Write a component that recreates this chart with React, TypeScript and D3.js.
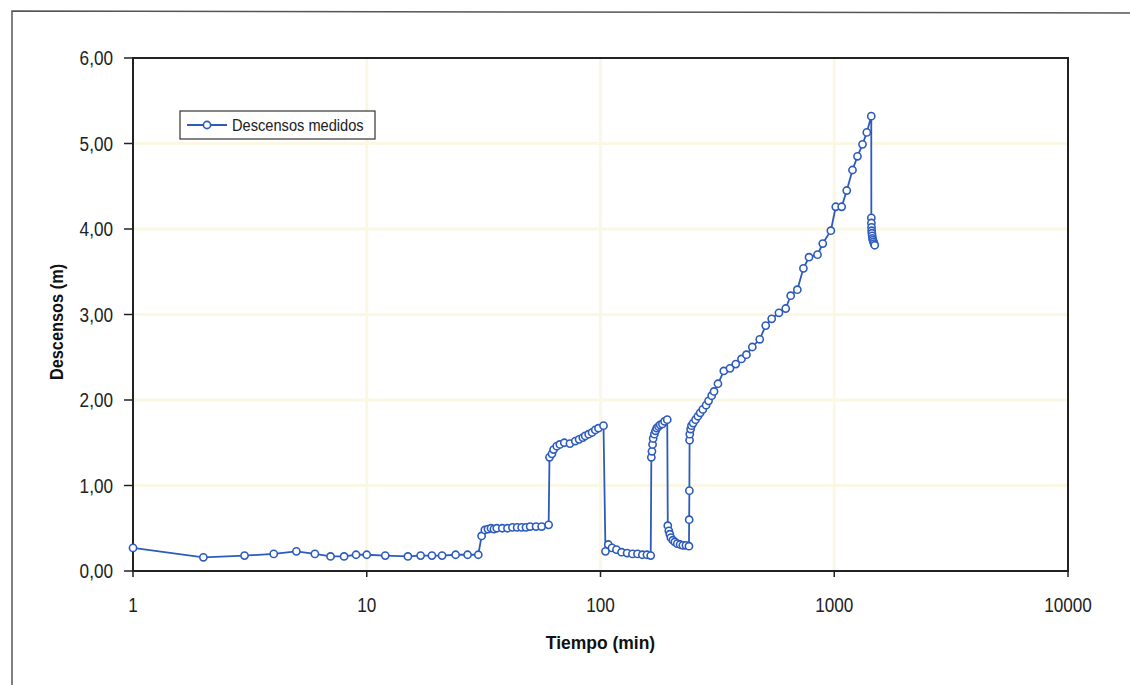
import React, { useEffect, useRef } from 'react';
import * as d3 from 'd3';

// Tiempo (min) y descensos medidos (m)
const tiempo = [
  1, 2, 3, 4, 5, 6, 7, 8, 9, 10, 12, 15, 17, 19, 21, 24, 27, 30,
  31, 32, 33, 34, 35, 36, 38, 40, 42, 44, 46, 48, 50, 53, 56, 60,
  60.5, 62, 63, 65, 67, 70, 74, 78, 81, 84, 86, 89, 92, 95, 98, 103,
  105, 108, 112, 117, 123, 130, 137, 144, 151, 158, 164,
  165, 166, 167, 168, 170, 172, 174, 177, 180, 184, 188, 193,
  194, 196, 198, 200, 204, 208, 213, 219, 225, 232, 239,
  239.5, 240, 240.5, 241, 243, 245, 249, 255, 261, 267, 274, 283, 290, 299, 306, 318,
  337, 358, 379, 401, 421, 446, 480, 509, 540, 580, 620, 651, 695, 738, 780, 848, 893,
  967, 1015, 1076, 1131, 1197, 1257, 1321, 1378, 1440,
  1441, 1442, 1444, 1446, 1449, 1453, 1458, 1464, 1472, 1481, 1490,
];

const descensos = [
  0.27, 0.16, 0.18, 0.2, 0.23, 0.2, 0.17, 0.17, 0.19, 0.19, 0.18, 0.17, 0.18, 0.18, 0.18, 0.19, 0.19, 0.19,
  0.41, 0.48, 0.49, 0.5, 0.49, 0.5, 0.5, 0.5, 0.51, 0.51, 0.51, 0.51, 0.52, 0.52, 0.52, 0.54,
  1.33, 1.37, 1.42, 1.46, 1.48, 1.5, 1.49, 1.52, 1.54, 1.56, 1.58, 1.6, 1.62, 1.65, 1.67, 1.7,
  0.23, 0.31, 0.27, 0.25, 0.22, 0.21, 0.2, 0.2, 0.19, 0.19, 0.18,
  1.33, 1.4, 1.48, 1.55, 1.6, 1.64, 1.67, 1.69, 1.71, 1.72, 1.75, 1.77,
  0.53, 0.47, 0.43, 0.39, 0.36, 0.34, 0.32, 0.31, 0.3, 0.3, 0.29,
  0.6, 0.94, 1.53, 1.6, 1.66, 1.7, 1.73, 1.77, 1.81, 1.85, 1.89, 1.94, 1.99, 2.05, 2.1, 2.19,
  2.34, 2.37, 2.42, 2.48, 2.53, 2.62, 2.71, 2.87, 2.95, 3.02, 3.07, 3.22, 3.29, 3.54, 3.67, 3.7, 3.83,
  3.98, 4.26, 4.26, 4.45, 4.69, 4.85, 4.99, 5.13, 5.32,
  4.13, 4.07, 4.02, 3.98, 3.95, 3.92, 3.89, 3.87, 3.85, 3.83, 3.81,
];

const xTicks = [1, 10, 100, 1000, 10000];
const yTicks = [0, 1, 2, 3, 4, 5, 6];
const serieNombre = 'Descensos medidos';

const FONT = '"Liberation Sans", Arial, sans-serif';
const AZUL = '#2d5bbd';

// estrecha el texto como la fuente "narrow" del original
const narrow = (sel: any, factor: number) => {
  sel.each(function (this: SVGTextElement) {
    const w = this.getComputedTextLength();
    d3.select(this).attr('textLength', w * factor).attr('lengthAdjust', 'spacingAndGlyphs');
  });
};

const App = () => {
  const ref = useRef<SVGSVGElement>(null);

  useEffect(() => {
    const svg = d3.select(ref.current);
    svg.selectAll('*').remove();

    const left = 133, right = 1068, top = 58, bottom = 571;

    const x = d3.scaleLog().domain([1, 10000]).range([left, right]);
    const y = d3.scaleLinear().domain([0, 6]).range([bottom, top]);

    // marco exterior (recortado en la imagen)
    svg.append('path')
      .attr('d', `M12,700 L12,11 L1140,13`)
      .attr('fill', 'none')
      .attr('stroke', '#555')
      .attr('stroke-width', 1.5);

    // rejilla tenue
    const grid = svg.append('g');
    grid.selectAll('.gy')
      .data(yTicks.slice(1, -1))
      .enter().append('line')
      .attr('x1', left).attr('x2', right)
      .attr('y1', d => y(d)).attr('y2', d => y(d))
      .attr('stroke', '#faf8e4').attr('stroke-width', 3);
    grid.selectAll('.gx')
      .data(xTicks.slice(1, -1))
      .enter().append('line')
      .attr('x1', d => x(d)).attr('x2', d => x(d))
      .attr('y1', top).attr('y2', bottom)
      .attr('stroke', '#faf8e4').attr('stroke-width', 3);

    // área de trazado
    svg.append('rect')
      .attr('x', left).attr('y', top)
      .attr('width', right - left).attr('height', bottom - top)
      .attr('fill', 'none')
      .attr('stroke', '#222')
      .attr('stroke-width', 2);

    // eje Y
    const yAxis = svg.append('g');
    yAxis.selectAll('line')
      .data(yTicks)
      .enter().append('line')
      .attr('x1', left - 9).attr('x2', left)
      .attr('y1', d => y(d)).attr('y2', d => y(d))
      .attr('stroke', '#222').attr('stroke-width', 1.5);
    yAxis.selectAll('text')
      .data(yTicks)
      .enter().append('text')
      .attr('x', 113)
      .attr('y', d => y(d))
      .attr('dy', '0.36em')
      .attr('text-anchor', 'end')
      .attr('font-family', FONT)
      .attr('font-size', 19.5)
      .attr('fill', '#222')
      .text(d => d3.format('.2f')(d).replace('.', ','))
      .call(narrow, 0.88);

    // eje X
    const xAxis = svg.append('g');
    xAxis.selectAll('line')
      .data(xTicks)
      .enter().append('line')
      .attr('x1', d => x(d)).attr('x2', d => x(d))
      .attr('y1', bottom).attr('y2', bottom + 6)
      .attr('stroke', '#222').attr('stroke-width', 1.5);
    xAxis.selectAll('text')
      .data(xTicks)
      .enter().append('text')
      .attr('x', d => x(d))
      .attr('y', 612)
      .attr('text-anchor', 'middle')
      .attr('font-family', FONT)
      .attr('font-size', 19.5)
      .attr('fill', '#222')
      .text(d => String(d))
      .call(narrow, 0.88);

    // títulos de ejes
    svg.append('text')
      .attr('x', (left + right) / 2)
      .attr('y', 649)
      .attr('text-anchor', 'middle')
      .attr('font-family', FONT)
      .attr('font-size', 19)
      .attr('font-weight', 'bold')
      .attr('fill', '#111')
      .text('Tiempo (min)')
      .call(narrow, 0.92);

    svg.append('text')
      .attr('transform', `translate(63,322) rotate(-90)`)
      .attr('text-anchor', 'middle')
      .attr('font-family', FONT)
      .attr('font-size', 19)
      .attr('font-weight', 'bold')
      .attr('fill', '#111')
      .text('Descensos (m)')
      .call(narrow, 0.86);

    // serie
    const data = tiempo.map((t, i) => ({ t, d: descensos[i] }));
    const line = d3.line<{ t: number; d: number }>()
      .x(p => x(p.t))
      .y(p => y(p.d));

    svg.append('path')
      .datum(data)
      .attr('d', line)
      .attr('fill', 'none')
      .attr('stroke', AZUL)
      .attr('stroke-width', 1.8);

    svg.append('g')
      .selectAll('circle')
      .data(data)
      .enter().append('circle')
      .attr('cx', p => x(p.t))
      .attr('cy', p => y(p.d))
      .attr('r', 3.6)
      .attr('fill', '#fff')
      .attr('stroke', AZUL)
      .attr('stroke-width', 1.6);

    // leyenda
    const lg = svg.append('g');
    lg.append('rect')
      .attr('x', 180).attr('y', 111)
      .attr('width', 195).attr('height', 28)
      .attr('fill', '#fff')
      .attr('stroke', '#333')
      .attr('stroke-width', 1.2);
    lg.append('line')
      .attr('x1', 187).attr('x2', 227)
      .attr('y1', 125).attr('y2', 125)
      .attr('stroke', AZUL).attr('stroke-width', 1.8);
    lg.append('circle')
      .attr('cx', 207).attr('cy', 125).attr('r', 3.6)
      .attr('fill', '#fff').attr('stroke', AZUL).attr('stroke-width', 1.6);
    lg.append('text')
      .attr('x', 232).attr('y', 131)
      .attr('font-family', FONT)
      .attr('font-size', 17)
      .attr('fill', '#222')
      .text(serieNombre)
      .call(narrow, 0.86);
  }, []);

  return (
    <svg
      ref={ref}
      width={1130}
      height={685}
      style={{ position: 'absolute', left: 0, top: 0, background: '#fff' }}
    />
  );
};

export default App;
